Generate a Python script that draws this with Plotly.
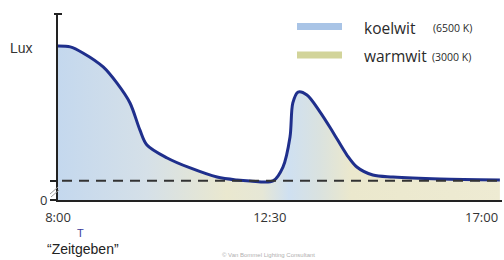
import plotly.graph_objects as go

# ---- data (hours of day, relative lux) ----
time_h = [8.00, 8.26, 8.53, 8.96, 9.25, 9.53, 9.74, 9.89, 10.32, 10.81, 11.38, 11.80,
          12.08, 12.57, 12.78, 12.93, 12.99, 13.10, 13.29, 13.57, 13.84, 14.14, 14.35,
          14.69, 15.12, 16.12, 17.39]
lux = [100.0, 99.4, 95.5, 86.4, 76.0, 63.0, 45.5, 35.7, 27.3, 20.8, 14.9, 13.0,
       12.4, 12.4, 21.4, 40.9, 63.0, 70.1, 68.2, 57.1, 44.2, 29.2, 21.4,
       16.2, 14.9, 13.6, 13.0]
threshold = 12.5
tick_vals = [8, 12.5, 17]
tick_text = ["8:00", "12:30", "17:00"]
legend_names = ["koelwit", "warmwit"]
legend_temps = ["(6500 K)", "(3000 K)"]
legend_colors = ["#a9c4e6", "#d2d49a"]

W, H = 504, 260
ML, MR, MT, MB = 58, 2, 14, 60
PW, PH = W - ML - MR, H - MT - MB
X0 = 8.0
PXH = 47.06
X1 = X0 + PW / PXH
YMAX = PH / 1.54


def px(x):
    return (x - ML) / PW


def py(y):
    return (H - MB - y) / PH


fig = go.Figure()
fig.add_trace(go.Scatter(
    x=time_h, y=lux, mode="lines",
    line=dict(color="#1f2f8c", width=3, shape="spline", smoothing=0.9),
    fill="tozeroy",
    fillgradient=dict(
        type="horizontal", start=X0, stop=X1,
        colorscale=[[0.0, "#c4d8ee"], [0.2, "#d5e0e8"], [0.38, "#eae8cf"],
                    [0.46, "#e6e7d6"], [0.52, "#cfe0f1"], [0.59, "#dae2df"],
                    [0.66, "#ebe8cd"], [1.0, "#eeebd3"]]),
    hoverinfo="skip", showlegend=False))

shapes = [
    dict(type="line", xref="x", yref="y", x0=X0 + 4 / PXH, x1=X1, y0=threshold, y1=threshold,
         line=dict(color="#333333", width=2, dash="10px,7px")),
    # top cap of y axis
    dict(type="line", xref="paper", yref="paper", x0=px(54), x1=px(62), y0=py(14), y1=py(14),
         line=dict(color="#222222", width=2)),
    # axis break marks
    dict(type="line", xref="paper", yref="paper", x0=px(50), x1=px(58), y0=py(194), y1=py(187),
         line=dict(color="#9a9a9a", width=1)),
    dict(type="line", xref="paper", yref="paper", x0=px(51), x1=px(59), y0=py(197), y1=py(190),
         line=dict(color="#9a9a9a", width=1)),
]
annotations = []
leg_y = [26.5, 55]
for i in range(2):
    shapes.append(dict(type="rect", xref="paper", yref="paper",
                       x0=px(297), x1=px(342), y0=py(leg_y[i] - 3.5), y1=py(leg_y[i] + 3.5),
                       fillcolor=legend_colors[i], line=dict(width=0)))
    annotations.append(dict(xref="paper", yref="paper", x=px(362), y=py(leg_y[i] + 1),
                            xanchor="left", yanchor="middle", showarrow=False,
                            text=legend_names[i],
                            font=dict(family="Open Sans", size=15.5, color="#2a2a2a")))
annotations.append(dict(xref="paper", yref="paper", x=px(431), y=py(28), xanchor="left",
                        yanchor="middle", showarrow=False, text=legend_temps[0],
                        font=dict(family="Open Sans", size=10.5, color="#2a2a2a")))
annotations.append(dict(xref="paper", yref="paper", x=px(430), y=py(57), xanchor="left",
                        yanchor="middle", showarrow=False, text=legend_temps[1],
                        font=dict(family="Open Sans", size=10.5, color="#2a2a2a")))
annotations += [
    dict(xref="paper", yref="paper", x=px(21), y=py(48), showarrow=False, text="Lux",
         xanchor="center", yanchor="middle",
         font=dict(family="Liberation Sans", size=14, color="#333333")),
    dict(xref="paper", yref="paper", x=px(80), y=py(233), showarrow=False, text="T",
         xanchor="center", yanchor="middle",
         font=dict(family="Liberation Sans", size=11, color="#3b3b9b")),
    dict(xref="paper", yref="paper", x=px(83), y=py(249), showarrow=False,
         text="\u201cZeitgeben\u201d", xanchor="center", yanchor="middle",
         font=dict(family="Liberation Sans", size=14, color="#222222")),
    dict(xref="paper", yref="paper", x=px(268), y=py(255), showarrow=False,
         text="\u00a9 Van Bommel Lighting Consultant", xanchor="center", yanchor="middle",
         font=dict(family="Liberation Sans", size=6, color="#b0b0b0")),
]

fig.update_layout(
    width=W, height=H, margin=dict(l=ML, r=MR, t=MT, b=MB),
    paper_bgcolor="white", plot_bgcolor="white",
    xaxis=dict(range=[X0, X1], showgrid=False, zeroline=False, showline=True,
               linecolor="#222222", linewidth=2, tickvals=tick_vals, ticktext=tick_text,
               ticks="", ticklabelstandoff=4, automargin=False,
               tickfont=dict(family="Open Sans", size=13, color="#333333")),
    yaxis=dict(range=[0, YMAX], showgrid=False, zeroline=False, showline=True,
               linecolor="#222222", linewidth=2, tickvals=[0, threshold], ticktext=["0", ""],
               ticks="outside", ticklen=6, tickwidth=1.5, tickcolor="#222222",
               automargin=False,
               tickfont=dict(family="Open Sans", size=13, color="#333333")),
    shapes=shapes, annotations=annotations, showlegend=False,
)
fig.write_html("out.html", config={"displayModeBar": False},
               post_script="document.body.style.margin='0';document.body.style.overflow='hidden';")
